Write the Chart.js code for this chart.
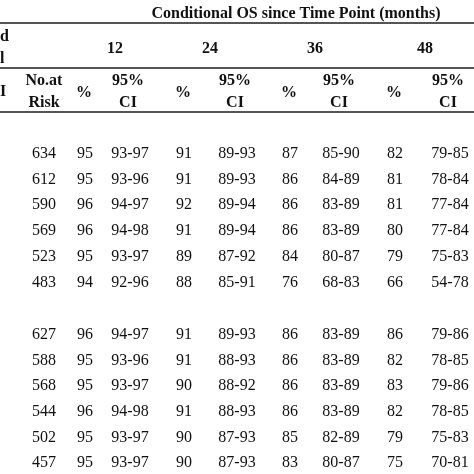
<!DOCTYPE html>
<html>
<head>
<meta charset="utf-8">
<script src="https://cdn.jsdelivr.net/npm/chart.js@4"></script>
<style>
  html, body { margin: 0; padding: 0; background: #fff; }
  #wrap { width: 474px; height: 474px; }
</style>
</head>
<body>
<div id="wrap"><canvas id="tbl"></canvas></div>
<script>
const title = "Conditional OS since Time Point (months)";
const timePoints = ["12", "24", "36", "48"];
const atRisk = [634, 612, 590, 569, 523, 483, 627, 588, 568, 544, 502, 457];
const pct12 = [95, 95, 96, 96, 95, 94, 96, 95, 95, 96, 95, 95];
const ci12 = ["93-97", "93-96", "94-97", "94-98", "93-97", "92-96", "94-97", "93-96", "93-97", "94-98", "93-97", "93-97"];
const pct24 = [91, 91, 92, 91, 89, 88, 91, 91, 90, 91, 90, 90];
const ci24 = ["89-93", "89-93", "89-94", "89-94", "87-92", "85-91", "89-93", "88-93", "88-92", "88-93", "87-93", "87-93"];
const pct36 = [87, 86, 86, 86, 84, 76, 86, 86, 86, 86, 85, 83];
const ci36 = ["85-90", "84-89", "83-89", "83-89", "80-87", "68-83", "83-89", "83-89", "83-89", "83-89", "82-89", "80-87"];
const pct48 = [82, 81, 81, 80, 79, 66, 86, 82, 83, 82, 79, 75];
const ci48 = ["79-85", "78-84", "77-84", "77-84", "75-83", "54-78", "79-86", "78-85", "79-86", "78-85", "75-83", "70-81"];

// layout (pixel units of the 474 grid)
const colX = [44, 85, 130, 184, 237, 290, 341, 395, 450];
const groupX = [115, 210, 315, 425];
const rowY = [154, 180, 205, 231, 257, 283, 335, 361, 386, 412, 438, 463];
const serif = '"Liberation Serif", "DejaVu Serif", serif';

const tablePlugin = {
  id: 'table',
  afterDraw(chart) {
    const ctx = chart.ctx;
    const x = v => chart.scales.x.getPixelForValue(v);
    const y = v => chart.scales.y.getPixelForValue(v);
    ctx.save();
    ctx.fillStyle = '#111';
    ctx.textAlign = 'center';
    ctx.textBaseline = 'middle';
    const line = (yy, w) => {
      ctx.fillStyle = '#555';
      ctx.fillRect(x(0), y(yy), x(474) - x(0), w);
      ctx.fillStyle = '#111';
    };
    line(22, 2); line(67, 2); line(111, 2);
    ctx.font = 'bold 16px ' + serif;
    ctx.fillText(title, x(296), y(14));
    timePoints.forEach((t, i) => ctx.fillText(t, x(groupX[i]), y(49)));
    ctx.textAlign = 'left';
    ctx.fillText('d', x(0), y(37));
    ctx.fillText('l', x(0), y(59));
    ctx.fillText('I', x(0), y(92));
    ctx.textAlign = 'center';
    ctx.fillText('No.at', x(colX[0]), y(81));
    ctx.fillText('Risk', x(colX[0]), y(103));
    for (let g = 0; g < 4; g++) {
      ctx.fillText('%', x(colX[1 + g * 2] - 1), y(93));
      ctx.fillText('95%', x(colX[2 + g * 2] - 2), y(81));
      ctx.fillText('CI', x(colX[2 + g * 2] - 2), y(103));
    }
    ctx.font = '16px ' + serif;
    const cols = [atRisk, pct12, ci12, pct24, ci24, pct36, ci36, pct48, ci48];
    rowY.forEach((ry, r) => {
      cols.forEach((c, k) => ctx.fillText(String(c[r]), x(colX[k]), y(ry)));
    });
    ctx.restore();
  }
};

new Chart(document.getElementById('tbl'), {
  type: 'scatter',
  data: { datasets: [{ data: [], pointRadius: 0 }] },
  options: {
    responsive: true,
    maintainAspectRatio: false,
    animation: false,
    layout: { padding: 0 },
    plugins: { legend: { display: false }, tooltip: { enabled: false } },
    scales: {
      x: { type: 'linear', min: 0, max: 474, display: false },
      y: { type: 'linear', min: 0, max: 474, reverse: true, display: false }
    }
  },
  plugins: [tablePlugin]
});
</script>
</body>
</html>
